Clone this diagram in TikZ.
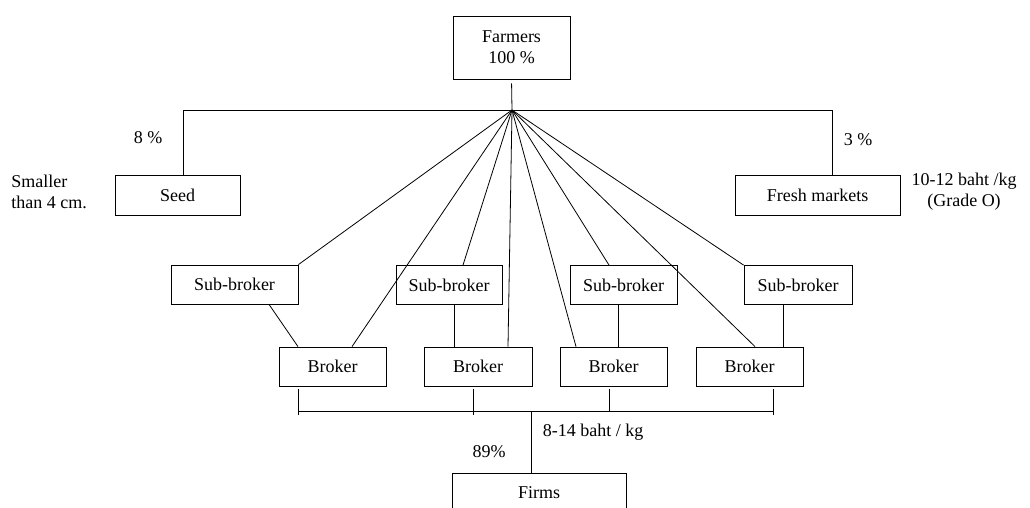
\documentclass[tikz,border=0pt]{standalone}
\usepackage{fontspec}
\setmainfont{Liberation Serif}
\usetikzlibrary{positioning,calc}
\tikzset{>=stealth}
\tikzset{box/.style={draw,rectangle,inner sep=0pt,align=center,minimum height=39pt}}

\begin{document}
\begin{tikzpicture}[x=1pt,y=-1pt,line width=0.8pt,font=\fontsize{18}{21}\selectfont]
\clip (0,0) rectangle (1030,507);
% Scale at 1pt per pixel, y downwards

% Coordinates of joints
\coordinate (hub) at (512,110);
\coordinate (busL) at (298,411);
\coordinate (busM) at (531,411);
\coordinate (busR) at (773,411);

% Boxes
\node [box,minimum width=117pt,minimum height=63pt] (farm) at (511.5,47.5) {Farmers\\100 \%};
\node [box,minimum width=125pt,minimum height=40pt] (seed) at (177.5,195) {Seed};
\node [box,minimum width=165pt,minimum height=40pt] (fresh) at (817.5,195) {Fresh markets};

\node [box,minimum width=127pt] (sub1) at (234.5,284.5) {Sub-broker};
\node [box,minimum width=106pt] (sub2) at (449,285) {Sub-broker};
\node [box,minimum width=107pt] (sub3) at (623.5,285) {Sub-broker};
\node [box,minimum width=108pt] (sub4) at (798,285) {Sub-broker};

\node [box,minimum width=107pt] (bro1) at (332.5,366.5) {Broker};
\node [box,minimum width=108pt] (bro2) at (478,366.5) {Broker};
\node [box,minimum width=107pt] (bro3) at (613.5,366.5) {Broker};
\node [box,minimum width=107pt] (bro4) at (749.5,366.5) {Broker};

\node [box,minimum width=174pt,minimum height=40pt] (firms) at (539,493) {Firms};

% Farmers to seed and fresh markets
\draw [shorten <=4pt] (farm.south) -- (hub);
\draw (hub) -| ([xshift=5.5pt]seed.north);
\draw (hub) -| ([xshift=14.5pt]fresh.north);

% Fan from the farmers
\draw (hub) -- (sub1.north east);
\draw (hub) -- ([xshift=19.5pt]bro1.north);
\draw (hub) -- ([xshift=14pt]sub2.north);
\draw (hub) -- ([xshift=30pt]bro2.north);
\draw (hub) -- ([xshift=-37.5pt]bro3.north);
\draw (hub) -- ([xshift=-14.5pt]sub3.north);
\draw (hub) -- ([xshift=5.5pt]bro4.north);
\draw (hub) -- (sub4.north west);

% Sub-brokers to brokers
\draw ([xshift=34.5pt]sub1.south) -- ([xshift=-34.5pt]bro1.north);
\draw ([xshift=5pt]sub2.south) -- ([xshift=-24pt]bro2.north);
\draw ([xshift=-5.5pt]sub3.south) -- ([xshift=4.5pt]bro3.north);
\draw ([xshift=-15pt]sub4.south) -- ([xshift=33.5pt]bro4.north);

% Brokers to firms
\draw (busL) -- (busR);
\draw ([xshift=-34.5pt,yshift=-3pt]bro1.south) -- ([yshift=-4pt]busL);
\draw ([xshift=-5pt,yshift=-3pt]bro2.south) -- ([xshift=-5pt,yshift=-4pt]bro2.south |- busL);
\draw ([xshift=-4.5pt,yshift=-3pt]bro3.south) -- ([xshift=-4.5pt]bro3.south |- busL);
\draw ([xshift=23.5pt,yshift=-3pt]bro4.south) -- ([yshift=-4pt]busR);
\draw (busM) -- ([xshift=-8pt]firms.north);

% Labels
\node (pseed) at (148,138) {8 \%};
\node (pfresh) at (858,140) {3 \%};
\node [align=left,anchor=west,inner sep=0pt] (size) at (11,192) {Smaller\\than 4 cm.};
\node [align=center,inner sep=0pt] (price) at (964,192) {10-12 baht /kg\\(Grade O)};
\node (pbro) at (593,432) {8-14 baht / kg};
\node (pfirm) at (489,452) {89\%};

\end{tikzpicture}
\end{document}
